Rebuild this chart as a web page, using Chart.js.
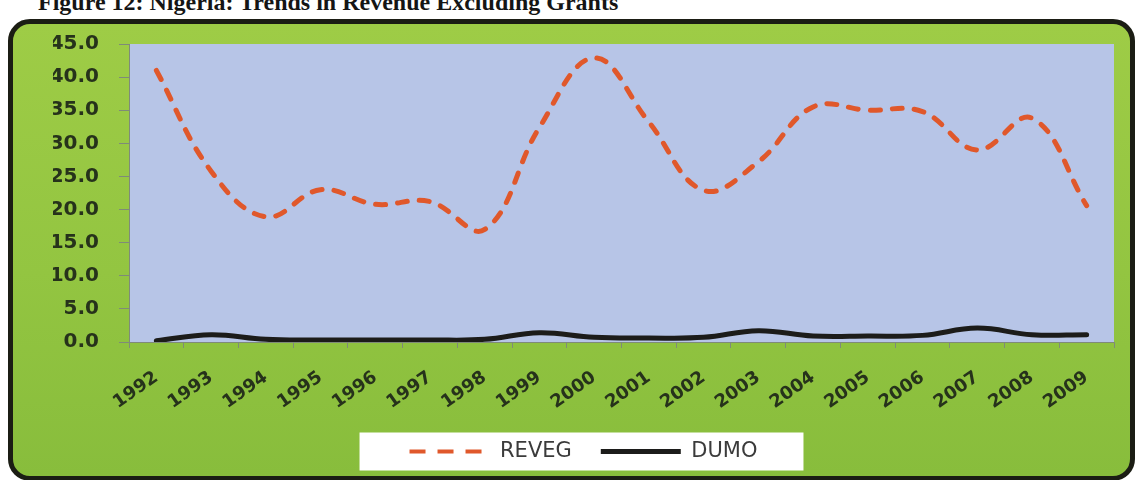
<!DOCTYPE html>
<html>
<head>
<meta charset="utf-8">
<title>Figure 12: Nigeria: Trends in Revenue Excluding Grants</title>
<script src="https://cdn.jsdelivr.net/npm/chart.js@4.4.1/dist/chart.umd.min.js"></script>
<style>
    html, body { margin: 0; padding: 0; background: #fff; width: 1140px; height: 480px; overflow: hidden; }
    #fig-title {
        position: absolute; left: 38px; top: -10px;
        font: bold 24px/24px "Liberation Serif", serif; color: #151515; white-space: nowrap;
    }
    #chart-frame {
        position: absolute; left: 8px; top: 19px; width: 1117px; height: 452px;
        border: 5px solid #1b1d14; border-radius: 22px; overflow: hidden;
        background: linear-gradient(to bottom, #9ecc46 0%, #93c541 55%, #88bd3c 100%);
    }
    #chart-frame canvas { display: block; }
</style>
</head>
<body>
<div id="fig-title">Figure 12: Nigeria: Trends in Revenue Excluding Grants</div>
<div id="chart-frame">
    <canvas id="revenueChart" width="1117" height="452"></canvas>
</div>

<script>
// --- Chart data ---
const years = ['1992', '1993', '1994', '1995', '1996', '1997', '1998', '1999', '2000',
               '2001', '2002', '2003', '2004', '2005', '2006', '2007', '2008', '2009'];
const revegValues = [41.0, 25.8, 18.9, 23.0, 20.8, 21.2, 17.0, 32.4, 42.9,
                     33.2, 22.9, 27.2, 35.5, 35.0, 34.8, 29.0, 33.8, 20.6];
const dumoValues = [0.2, 1.1, 0.4, 0.3, 0.3, 0.3, 0.4, 1.4, 0.7,
                    0.6, 0.7, 1.7, 0.9, 0.9, 1.0, 2.1, 1.1, 1.1];
const seriesNames = ['REVEG', 'DUMO'];
const yMin = 0;
const yMax = 45;
const yStep = 5;

// --- Colours ---
const PLOT_BG = '#b7c5e7';
const AXIS_COLOR = '#7f8b78';
const TICK_TEXT = '#26321b';
const REVEG_COLOR = '#e0582b';
const DUMO_COLOR = '#1c1c1a';

// Fills the plot area and puts a white box behind the legend
const backgroundPlugin = {
    id: 'backgroundPlugin',
    beforeDraw(chart) {
        const { ctx, chartArea } = chart;
        ctx.save();
        ctx.fillStyle = PLOT_BG;
        ctx.fillRect(chartArea.left, chartArea.top, chartArea.width, chartArea.height);

        const boxes = chart.legend && chart.legend.legendHitBoxes;
        if (boxes && boxes.length) {
            const first = boxes[0];
            const last = boxes[boxes.length - 1];
            const left = first.left - 50;
            const right = last.left + last.width + 46;
            const mid = first.top + first.height / 2;
            ctx.fillStyle = '#ffffff';
            ctx.fillRect(left, mid - 19, right - left, 38);
        }
        ctx.restore();
    }
};

function buildLegendLabels(chart) {
    const items = Chart.defaults.plugins.legend.labels.generateLabels(chart);
    items.forEach(item => {
        if (item.text === 'REVEG') {
            item.lineDash = [16, 12];
            item.lineWidth = 4;
        }
    });
    return items;
}

function renderRevenueChart() {
    const ctx = document.getElementById('revenueChart').getContext('2d');

    new Chart(ctx, {
        type: 'line',
        data: {
            labels: years,
            datasets: [
                {
                    label: seriesNames[0],
                    data: revegValues,
                    borderColor: REVEG_COLOR,
                    backgroundColor: REVEG_COLOR,
                    borderWidth: 5,
                    borderDash: [10, 12],
                    borderCapStyle: 'round',
                    tension: 0.4,
                    pointRadius: 0,
                    fill: false
                },
                {
                    label: seriesNames[1],
                    data: dumoValues,
                    borderColor: DUMO_COLOR,
                    backgroundColor: DUMO_COLOR,
                    borderWidth: 5,
                    borderCapStyle: 'round',
                    tension: 0.4,
                    pointRadius: 0,
                    fill: false
                }
            ]
        },
        options: {
            responsive: false,
            animation: false,
            layout: { padding: { left: 40, right: 16, top: 20, bottom: 4 } },
            scales: {
                x: {
                    offset: true,
                    grid: { offset: true, drawOnChartArea: false, tickLength: 6, color: AXIS_COLOR },
                    border: { color: AXIS_COLOR, width: 1 },
                    ticks: {
                        autoSkip: false,
                        minRotation: 35,
                        maxRotation: 35,
                        padding: 19,
                        color: TICK_TEXT,
                        font: { family: 'DejaVu Sans', weight: 'bold', size: 18 }
                    },
                    afterFit(scale) { scale.height = 70; }
                },
                y: {
                    min: yMin,
                    max: yMax,
                    grid: { drawOnChartArea: false, tickLength: 10, color: AXIS_COLOR },
                    border: { color: AXIS_COLOR, width: 1 },
                    ticks: {
                        stepSize: yStep,
                        padding: 20,
                        color: TICK_TEXT,
                        font: { family: 'DejaVu Sans', weight: 'bold', size: 20 },
                        callback: value => Number(value).toFixed(1)
                    },
                    afterFit(scale) {
                        scale.width = 76;
                        // keep the label padding from pushing the plot area down
                        scale.paddingTop = 12;
                        scale.paddingBottom = 0;
                    }
                }
            },
            plugins: {
                tooltip: { enabled: false },
                legend: {
                    display: true,
                    position: 'bottom',
                    labels: {
                        usePointStyle: true,
                        pointStyle: 'line',
                        pointStyleWidth: 80,
                        padding: 29,
                        color: '#3b3b3b',
                        font: { family: 'DejaVu Sans', size: 21 },
                        generateLabels: buildLegendLabels
                    }
                }
            }
        },
        plugins: [backgroundPlugin]
    });
}

renderRevenueChart();
</script>
</body>
</html>
